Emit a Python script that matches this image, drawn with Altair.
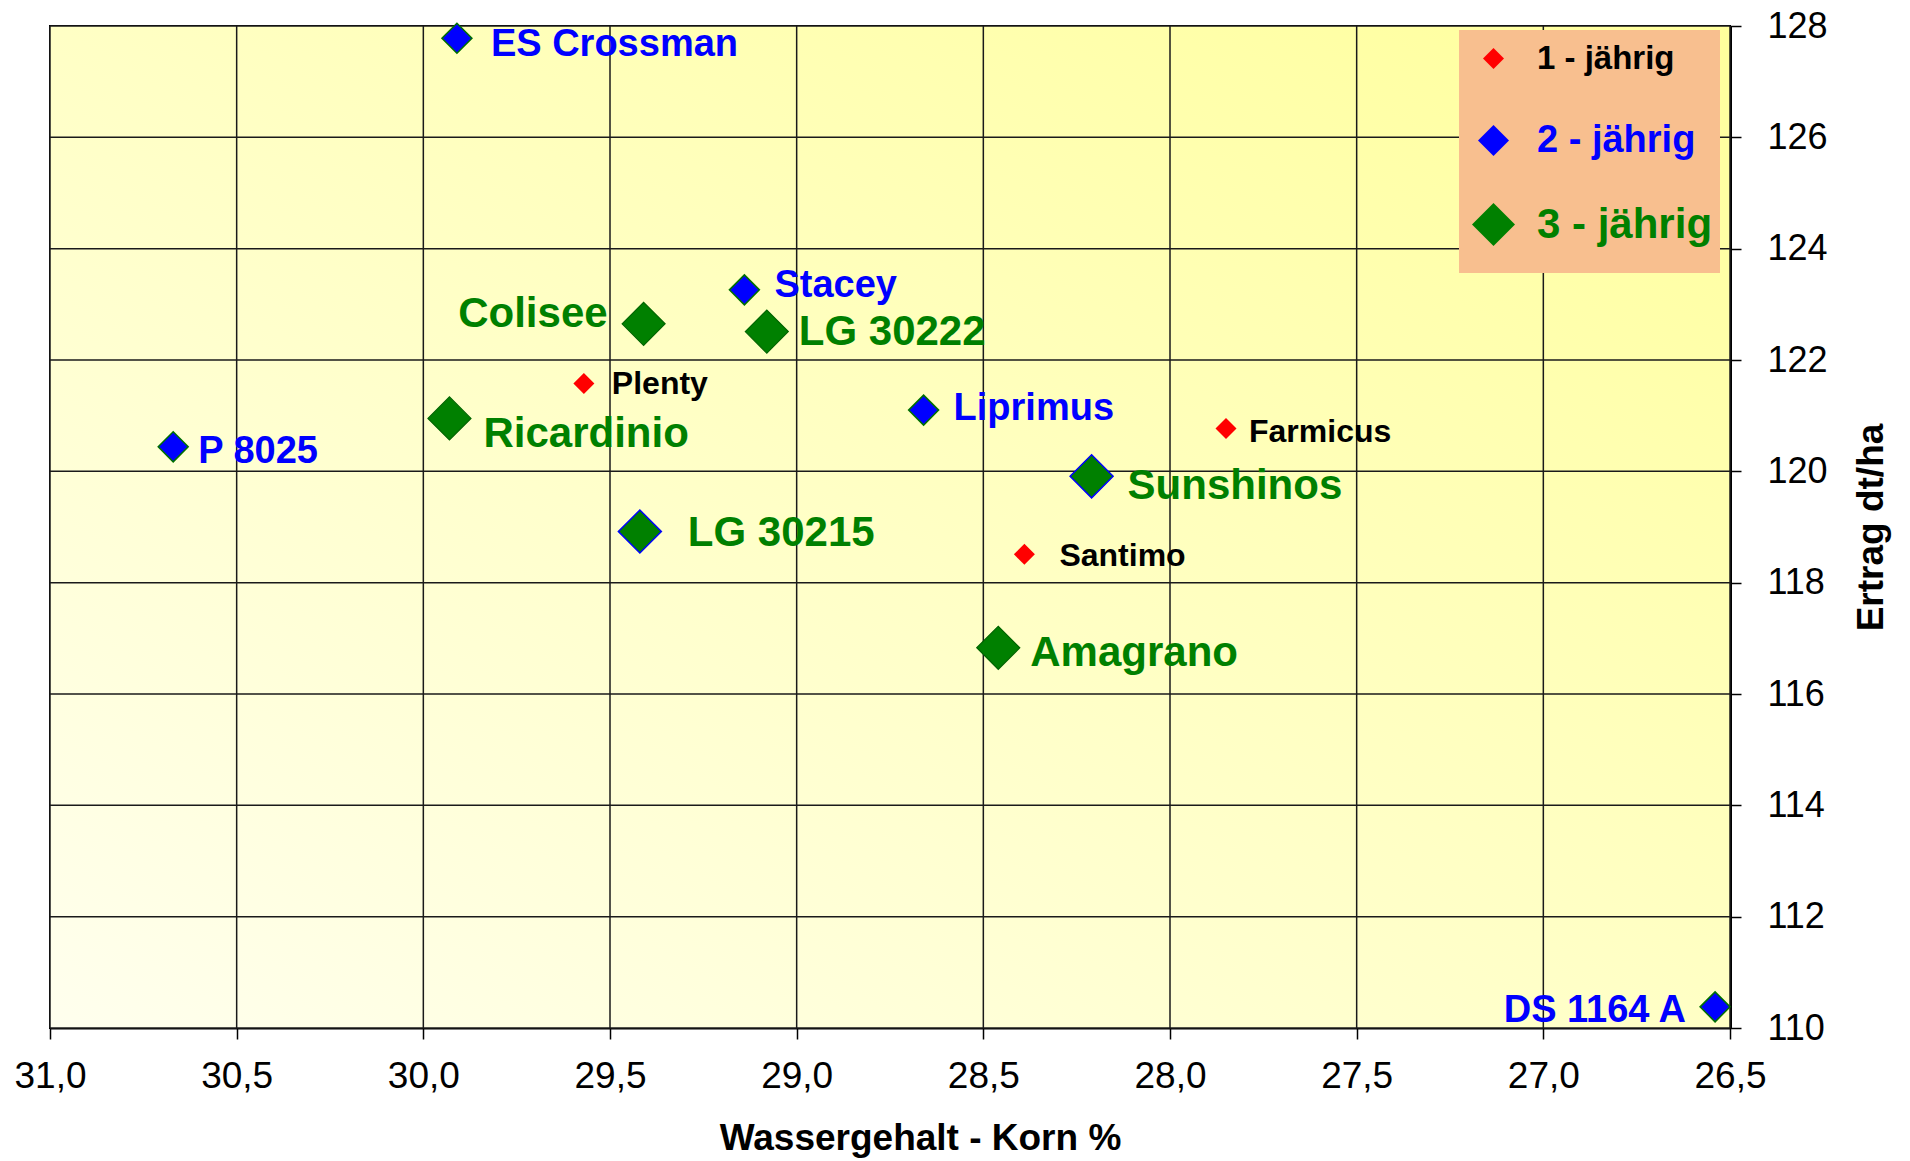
import altair as alt
import pandas as pd

# ---------------- data ----------------
names = ["ES Crossman", "Stacey", "Colisee", "LG 30222", "Plenty", "Ricardinio",
         "P 8025", "Liprimus", "Farmicus", "Sunshinos", "LG 30215", "Santimo",
         "Amagrano", "DS 1164 A"]
wassergehalt = [29.91, 29.14, 29.41, 29.08, 29.57, 29.93,
                30.67, 28.66, 27.85, 28.21, 29.42, 28.39,
                28.46, 26.54]
ertrag = [127.78, 123.26, 122.65, 122.51, 121.58, 120.95,
          120.44, 121.10, 120.77, 119.91, 118.92, 118.51,
          116.83, 110.38]
gruppe = ["2 - jährig", "2 - jährig", "3 - jährig", "3 - jährig", "1 - jährig", "3 - jährig",
          "2 - jährig", "2 - jährig", "1 - jährig", "3 - jährig", "3 - jährig", "1 - jährig",
          "3 - jährig", "2 - jährig"]
gruppen = ["1 - jährig", "2 - jährig", "3 - jährig"]
x_ticks = [31.0, 30.5, 30.0, 29.5, 29.0, 28.5, 28.0, 27.5, 27.0, 26.5]
y_ticks = [110, 112, 114, 116, 118, 120, 122, 124, 126, 128]

df = pd.DataFrame({"name": names, "wasser": wassergehalt, "ertrag": ertrag, "gruppe": gruppe})

# ---------------- style ----------------
FONT = "Liberation Sans"
W, H = 1680, 1002
RED, BLUE, GREEN = "#FF0000", "#0000FF", "#008000"

x_scale = alt.Scale(domain=[26.5, 31.0], reverse=True, nice=False, zero=False)
y_scale = alt.Scale(domain=[110, 128], nice=False, zero=False)

x_axis = alt.Axis(
    title="Wassergehalt - Korn %", values=x_ticks, orient="bottom", grid=False,
    labelExpr="replace(format(datum.value, '.1f'), '.', ',')",
    tickSize=11, tickWidth=1.5, tickColor="#000000",
    domainColor="#000000", domainWidth=2,
    labelPadding=19, labelFont=FONT, labelFontSize=37, labelColor="#000000",
    labelFlush=False, labelOverlap=False,
    titleFont=FONT, titleFontSize=37, titleFontWeight="bold", titleColor="#000000",
    titleX=870, titleY=121, titleAlign="center", titleBaseline="alphabetic",
)
y_axis = alt.Axis(
    title="Ertrag dt/ha", values=y_ticks, orient="right", grid=False, format="d",
    tickSize=11, tickWidth=1.5, tickColor="#000000",
    domainColor="#000000", domainWidth=3,
    labelPadding=26, labelFont=FONT, labelFontSize=36, labelColor="#000000",
    labelFlush=False, labelOverlap=False,
    titleFont=FONT, titleFontSize=37, titleFontWeight="bold", titleColor="#000000",
    titleAngle=270, titleX=141, titleY=501, titleAlign="center", titleBaseline="middle",
)

X = alt.X("wasser:Q", scale=x_scale, axis=x_axis)
Y = alt.Y("ertrag:Q", scale=y_scale, axis=y_axis)

legend = alt.Legend(
    title=" ", titleOrient="bottom", titleFontSize=10, titlePadding=10,
    orient="none", legendX=1409, legendY=4,
    fillColor="#F8BF8F", padding=7,
    symbolType="diamond", symbolOffset=6,
    symbolSize={"expr": "datum.label === '1 - jährig' ? 441 : datum.label === '2 - jährig' ? 961 : 1849"},
    symbolStrokeWidth=0,
    labelFont=FONT, labelFontWeight="bold",
    labelFontSize={"expr": "datum.label === '1 - jährig' ? 33 : datum.label === '2 - jährig' ? 38 : 42"},
    labelColor={"expr": "datum.label === '1 - jährig' ? '#000000' : datum.label === '2 - jährig' ? '#0000FF' : '#008000'"},
    labelOffset=22, labelLimit=400, rowPadding=43,
)
COLOR = alt.Color("gruppe:N", scale=alt.Scale(domain=gruppen, range=[RED, BLUE, GREEN]), legend=legend)

# ---------------- layers ----------------
background = alt.Chart(alt.Data(values=[{}])).mark_rect(
    fill=alt.LinearGradient(
        gradient="linear", x1=0, y1=1, x2=1, y2=0,
        stops=[alt.GradientStop(color="#FFFFEE", offset=0),
               alt.GradientStop(color="#FFFF9C", offset=1)],
    )
).encode(x=alt.value(0), x2=alt.value(W), y=alt.value(0), y2=alt.value(H))

xgrid = alt.Chart(pd.DataFrame({"wasser": x_ticks})).mark_rule(
    color="#1a1a1a", strokeWidth=1.5).encode(x=X)
ygrid = alt.Chart(pd.DataFrame({"ertrag": y_ticks})).mark_rule(
    color="#1a1a1a", strokeWidth=1.5).encode(y=Y)


def points(group, size, stroke=None, stroke_width=0.0, only=None, exclude=None):
    ch = alt.Chart(df).transform_filter(alt.FieldEqualPredicate(field="gruppe", equal=group))
    if only is not None:
        ch = ch.transform_filter(alt.FieldOneOfPredicate(field="name", oneOf=only))
    if exclude is not None:
        ch = ch.transform_filter(~alt.FieldOneOfPredicate(field="name", oneOf=exclude))
    kw = dict(shape="diamond", filled=True, opacity=1, size=size)
    if stroke is not None:
        kw.update(stroke=stroke, strokeWidth=stroke_width)
    return ch.mark_point(**kw).encode(x=X, y=Y, color=COLOR)


def labels(subset, color, size, dx, dy, align="left"):
    return alt.Chart(df).transform_filter(
        alt.FieldOneOfPredicate(field="name", oneOf=subset)
    ).mark_text(
        align=align, baseline="middle", dx=dx, dy=dy, font=FONT,
        fontWeight="bold", fontSize=size, color=color,
    ).encode(x=X, y=Y, text="name:N")


layers = [
    background, xgrid, ygrid,
    points("1 - jährig", 441),
    points("2 - jährig", 900, stroke="#007000", stroke_width=1.5),
    points("3 - jährig", 1849, stroke="#006400", stroke_width=1.2,
           exclude=["Sunshinos", "LG 30215"]),
    points("3 - jährig", 1849, stroke="#0000FF", stroke_width=1.5,
           only=["Sunshinos", "LG 30215"]),
    # black labels (1 - jährig)
    labels(["Plenty"], "#000000", 32, 28, 1),
    labels(["Farmicus"], "#000000", 32, 23, 4),
    labels(["Santimo"], "#000000", 32, 35, 2),
    # blue labels (2 - jährig)
    labels(["ES Crossman"], BLUE, 38, 34, 7),
    labels(["Stacey"], BLUE, 38, 30, -4),
    labels(["Liprimus"], BLUE, 38, 30, -1),
    labels(["P 8025"], BLUE, 38, 25, 5),
    labels(["DS 1164 A"], BLUE, 38, -29, 4, align="right"),
    # green labels (3 - jährig)
    labels(["LG 30222"], GREEN, 42, 32, 0),
    labels(["Sunshinos"], GREEN, 42, 36, 10),
    labels(["Amagrano"], GREEN, 42, 32, 5),
    labels(["Ricardinio"], GREEN, 42, 34, 16),
    labels(["LG 30215"], GREEN, 42, 48, 2),
    labels(["Colisee"], GREEN, 42, -36, -10, align="right"),
]

chart = alt.layer(*layers).properties(
    width=W, height=H,
    padding={"left": 42, "top": 18, "right": 170, "bottom": 132},
    autosize=alt.AutoSizeParams(type="none"),
    background="#FFFFFF",
).configure_view(stroke="#000000", strokeWidth=2)

chart.save("out.html", embed_options={"renderer": "svg", "actions": False})
